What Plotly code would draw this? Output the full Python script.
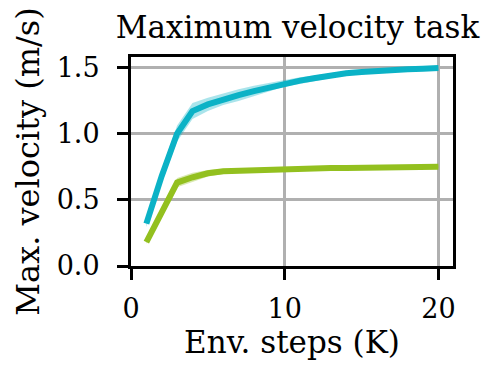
import plotly.graph_objects as go

steps = list(range(1, 21))
blue_mean = [0.32, 0.68, 1.00, 1.17, 1.22, 1.26, 1.29, 1.32, 1.35, 1.38,
             1.40, 1.42, 1.44, 1.455, 1.465, 1.475, 1.48, 1.485, 1.49, 1.495]
blue_half = [0.025, 0.05, 0.06, 0.06, 0.05, 0.045, 0.045, 0.04, 0.035, 0.025,
             0.025, 0.02, 0.02, 0.015, 0.015, 0.012, 0.012, 0.012, 0.012, 0.012]
green_mean = [0.18, 0.41, 0.63, 0.67, 0.70, 0.715, 0.72, 0.725, 0.73, 0.73,
              0.735, 0.735, 0.74, 0.74, 0.74, 0.745, 0.745, 0.745, 0.75, 0.75]
green_half = [0.012, 0.025, 0.035, 0.035, 0.025, 0.02, 0.015, 0.012, 0.012, 0.012,
              0.01, 0.01, 0.01, 0.01, 0.01, 0.01, 0.01, 0.01, 0.01, 0.01]

x_ticks = [0, 10, 20]
y_ticks = [0.0, 0.5, 1.0, 1.5]
y_tick_labels = ["0.0", "0.5", "1.0", "1.5"]

BLUE = "#0bb2c6"
GREEN = "#93c01f"
FONT = "DejaVu Serif"

fig = go.Figure()

for mean, half, col, fill in [(blue_mean, blue_half, BLUE, "rgba(11,178,198,0.35)"),
                              (green_mean, green_half, GREEN, "rgba(147,192,31,0.35)")]:
    upper = [m + h for m, h in zip(mean, half)]
    lower = [m - h for m, h in zip(mean, half)]
    fig.add_trace(go.Scatter(x=steps, y=upper, mode="lines", line=dict(width=0),
                             showlegend=False, hoverinfo="skip"))
    fig.add_trace(go.Scatter(x=steps, y=lower, mode="lines", line=dict(width=0),
                             fill="tonexty", fillcolor=fill,
                             showlegend=False, hoverinfo="skip"))
    fig.add_trace(go.Scatter(x=steps, y=mean, mode="lines",
                             line=dict(color=col, width=6),
                             showlegend=False))

axis_common = dict(
    showline=True, linecolor="black", linewidth=3, mirror=True,
    ticks="outside", ticklen=11, tickwidth=3, tickcolor="black",
    showgrid=True, gridcolor="#b0b0b0", gridwidth=3,
    zeroline=False, automargin=False,
    tickfont=dict(family=FONT, size=27, color="black"),
)

# the page body adds an 8px offset, so the figure is 8px smaller on each side
fig.update_layout(
    width=481, height=374,
    margin=dict(l=123, r=36, t=49, b=116),
    plot_bgcolor="white", paper_bgcolor="white",
    title=dict(text="Maximum velocity task", x=0.602, xanchor="center",
               y=0.949, yanchor="middle",
               font=dict(family=FONT, size=31, color="black")),
    xaxis=dict(range=[0, 20.95], tickvals=x_ticks, ticklabelstandoff=6,
               title=dict(text="Env. steps (K)", standoff=0,
                          font=dict(family=FONT, size=31, color="black")),
               **axis_common),
    yaxis=dict(range=[0, 1.578], tickvals=y_ticks, ticktext=y_tick_labels,
               ticklabelstandoff=12,
               title=dict(text="Max. velocity (m/s)", standoff=8,
                          font=dict(family=FONT, size=32, color="black")),
               **axis_common),
)

fig.write_html("out.html")
